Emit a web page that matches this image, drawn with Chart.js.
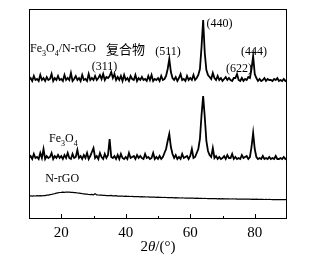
<!DOCTYPE html>
<html>
<head>
<meta charset="utf-8">
<script src="https://cdn.jsdelivr.net/npm/chart.js@4.4.1/dist/chart.umd.min.js"></script>
<style>
  html, body { margin: 0; padding: 0; background: #fff; }
  #wrap { width: 317px; height: 269px; }
</style>
</head>
<body>
<div id="wrap"><canvas id="xrd"></canvas></div>
<script>
// 2theta grid (degrees)
const angles = [
  10,10.5,11,11.5,12,12.5,13,13.5,14,14.5,15,15.5,16,16.5,17,17.5,18,18.5,19,19.5,
  20,20.5,21,21.5,22,22.5,23,23.5,24,24.5,25,25.5,26,26.5,27,27.5,28,28.5,29,29.5,
  30,30.5,31,31.5,32,32.5,33,33.5,34,34.5,35,35.5,36,36.5,37,37.5,38,38.5,39,39.5,
  40,40.5,41,41.5,42,42.5,43,43.5,44,44.5,45,45.5,46,46.5,47,47.5,48,48.5,49,49.5,
  50,50.5,51,51.5,52,52.5,53,53.5,54,54.5,55,55.5,56,56.5,57,57.5,58,58.5,59,59.5,
  60,60.5,61,61.5,62,62.5,63,63.5,64,64.5,65,65.5,66,66.5,67,67.5,68,68.5,69,69.5,
  70,70.5,71,71.5,72,72.5,73,73.5,74,74.5,75,75.5,76,76.5,77,77.5,78,78.5,79,79.5,
  80,80.5,81,81.5,82,82.5,83,83.5,84,84.5,85,85.5,86,86.5,87,87.5,88,88.5,89,89.5,
  90
];

// intensities (stacked with offsets, arbitrary units)
const composite = [
  139,141,138,143,139,140,138,144,139,141, 138,142,139,140,145,138,141,139,143,139,
  140,138,144,139,141,139,146,138,140,143, 139,141,138,144,139,140,138,145,139,141,
  139,143,139,141,144,140,145,139,142,141, 143,147,141,145,139,142,139,143,138,144,
  139,141,138,143,140,139,144,138,141,139, 142,139,140,138,143,139,144,138,140,139,
  141,138,143,139,140,143,150,160,147,141, 139,142,138,141,145,139,140,138,143,139,
  141,139,144,139,141,144,150,172,199,166, 149,144,142,140,146,141,139,143,139,141,
  138,140,142,139,141,139,138,141,141,145, 139,138,141,138,140,139,142,141,150,163,
  145,141,138,140,138,139,141,138,140,139, 139,138,140,139,141,138,139,138,140,138,
  139
];

const fe3o4 = [
  61,63,60,65,61,62,60,66,61,70, 60,63,61,62,66,60,63,61,64,61,
  63,60,64,61,66,61,60,65,61,62, 69,61,63,60,64,61,66,60,63,67,
  71,61,63,60,66,62,60,65,61,64, 80,62,61,63,60,64,60,65,61,60,
  62,60,66,61,62,63,60,64,61,63, 61,60,65,61,62,60,61,66,60,62,
  60,63,60,62,66,70,78,85,72,65, 61,64,60,62,60,65,61,62,63,60,
  63,70,61,62,66,70,80,104,123,102, 78,68,64,62,71,61,63,60,62,60,
  61,63,60,64,61,61,65,60,62,60, 61,60,64,61,62,63,60,62,72,86,
  70,62,60,61,60,63,60,61,60,62, 60,61,60,63,60,60,61,60,62,60,
  61
];

const nrgo = [
  23.0,23.2,22.9,23.1,23.0,23.3,23.1,23.4,23.2,23.5, 23.4,23.8,23.9,24.3,24.6,25.0,25.4,25.9,26.2,26.5,
  26.6,26.9,26.7,27.0,26.8,26.9,26.6,26.7,26.3,26.4, 26.0,25.8,25.6,25.3,25.1,24.8,24.9,24.5,24.4,24.6,
  24.2,25.2,24.1,24.0,23.8,23.9,23.6,23.7,23.4,23.5, 23.3,23.6,23.2,23.1,23.3,22.9,23.0,22.8,23.0,22.7,
  22.8,22.6,22.7,22.5,22.6,22.4,22.5,22.3,22.4,22.2, 22.3,22.1,22.2,22.0,22.1,21.9,22.0,21.8,21.9,21.7,
  21.8,21.6,21.7,21.5,21.6,21.5,21.4,21.5,21.3,21.4, 21.2,21.3,21.1,21.2,21.0,21.1,21.0,20.9,21.0,20.8,
  20.9,20.8,20.9,20.7,20.8,20.6,20.7,20.6,20.5,20.6, 20.5,20.4,20.5,20.3,20.4,20.3,20.4,20.2,20.3,20.2,
  20.3,20.1,20.2,20.1,20.2,20.0,20.1,20.0,20.1,19.9, 20.0,19.9,20.0,19.8,19.9,19.8,19.9,19.8,19.7,19.8,
  19.7,19.8,19.6,19.7,19.6,19.7,19.5,19.6,19.5,19.6, 19.5,19.4,19.5,19.4,19.5,19.3,19.4,19.3,19.4,19.3,
  19.3
];

const xTickLabels = [20, 40, 60, 80];

// peak / trace labels: [text parts, angle, intensity, align]
// parts: [string, 'n' normal | 's' subscript]
const notes = [
  [[['Fe', 'n'], ['3', 's'], ['O', 'n'], ['4', 's'], ['/N-rGO', 'n']], 10.3, 170, 'left'],
  [[['(311)', 'n']], 33.4, 152, 'center'],
  [[['(511)', 'n']], 53.1, 167, 'center'],
  [[['(440)', 'n']], 69.1, 195, 'center'],
  [[['(622)', 'n']], 75.1, 150, 'center'],
  [[['(444)', 'n']], 79.8, 167, 'center'],
  [[['Fe', 'n'], ['3', 's'], ['O', 'n'], ['4', 's']], 16.2, 80, 'left'],
  [[['N-rGO', 'n']], 15.0, 40, 'left']
];
const cnText = ['复合物', 33.9, 170];

const serif = '"Liberation Serif", "Times New Roman", serif';

function toPoints(ys) {
  return angles.map((a, i) => ({ x: a, y: ys[i] }));
}

const frame = {
  id: 'frame',
  afterDraw(chart) {
    const ctx = chart.ctx;
    const a = chart.chartArea;
    const xs = chart.scales.x;
    const ys = chart.scales.y;
    ctx.save();
    ctx.strokeStyle = '#000';
    ctx.lineWidth = 1;
    ctx.strokeRect(a.left + 0.5, a.top + 0.5, a.right - a.left - 1, a.bottom - a.top - 1);

    // inward ticks on the bottom axis
    [20, 30, 40, 50, 60, 70, 80].forEach(v => {
      const px = Math.round(xs.getPixelForValue(v)) + 0.5;
      const len = v % 20 === 0 ? 5 : 3;
      ctx.beginPath();
      ctx.moveTo(px, a.bottom);
      ctx.lineTo(px, a.bottom - len);
      ctx.stroke();
    });

    // labels
    ctx.fillStyle = '#000';
    ctx.textBaseline = 'middle';
    ctx.textAlign = 'left';
    notes.forEach(([parts, ang, val, align]) => {
      const fs = 12;
      let w = 0;
      parts.forEach(([t, k]) => {
        ctx.font = (k === 's' ? 8 : fs) + 'px ' + serif;
        w += ctx.measureText(t).width;
      });
      let x = xs.getPixelForValue(ang);
      if (align === 'center') x -= w / 2;
      const y = ys.getPixelForValue(val);
      parts.forEach(([t, k]) => {
        ctx.font = (k === 's' ? 8 : fs) + 'px ' + serif;
        ctx.fillText(t, x, k === 's' ? y + 5 : y);
        x += ctx.measureText(t).width;
      });
    });
    ctx.font = '13px "Noto Sans CJK SC", sans-serif';
    ctx.fillText(cnText[0], xs.getPixelForValue(cnText[1]), ys.getPixelForValue(cnText[2]));

    // axis title 2θ/(°)
    const title = [['2', 'normal'], ['θ', 'italic'], ['/(°)', 'normal']];
    let tw = 0;
    title.forEach(([t, st]) => {
      ctx.font = st + ' 15px ' + serif;
      tw += ctx.measureText(t).width;
    });
    let tx = (a.left + a.right) / 2 - tw / 2;
    title.forEach(([t, st]) => {
      ctx.font = st + ' 15px ' + serif;
      ctx.fillText(t, tx, 247);
      tx += ctx.measureText(t).width;
    });
    ctx.restore();
  }
};

const lineStyle = {
  borderColor: '#000',
  pointRadius: 0,
  tension: 0,
  fill: false
};

new Chart(document.getElementById('xrd').getContext('2d'), {
  type: 'line',
  data: {
    datasets: [
      Object.assign({ label: 'Fe3O4/N-rGO', data: toPoints(composite), borderWidth: 1.8 }, lineStyle),
      Object.assign({ label: 'Fe3O4', data: toPoints(fe3o4), borderWidth: 1.8 }, lineStyle),
      Object.assign({ label: 'N-rGO', data: toPoints(nrgo), borderWidth: 1.2 }, lineStyle)
    ]
  },
  options: {
    responsive: true,
    maintainAspectRatio: false,
    animation: false,
    layout: { padding: { left: 29, right: 30, top: 9, bottom: 0 } },
    plugins: { legend: { display: false }, tooltip: { enabled: false } },
    scales: {
      x: {
        type: 'linear',
        min: 10,
        max: 90,
        grid: { display: false, drawTicks: false },
        border: { display: false },
        ticks: {
          stepSize: 10,
          padding: 5,
          color: '#000',
          font: { family: serif, size: 15 },
          callback: v => xTickLabels.includes(v) ? String(v) : ''
        },
        afterFit: s => { s.height = 50; }
      },
      y: {
        display: false,
        min: 0,
        max: 210
      }
    }
  },
  plugins: [frame]
});
</script>
</body>
</html>
